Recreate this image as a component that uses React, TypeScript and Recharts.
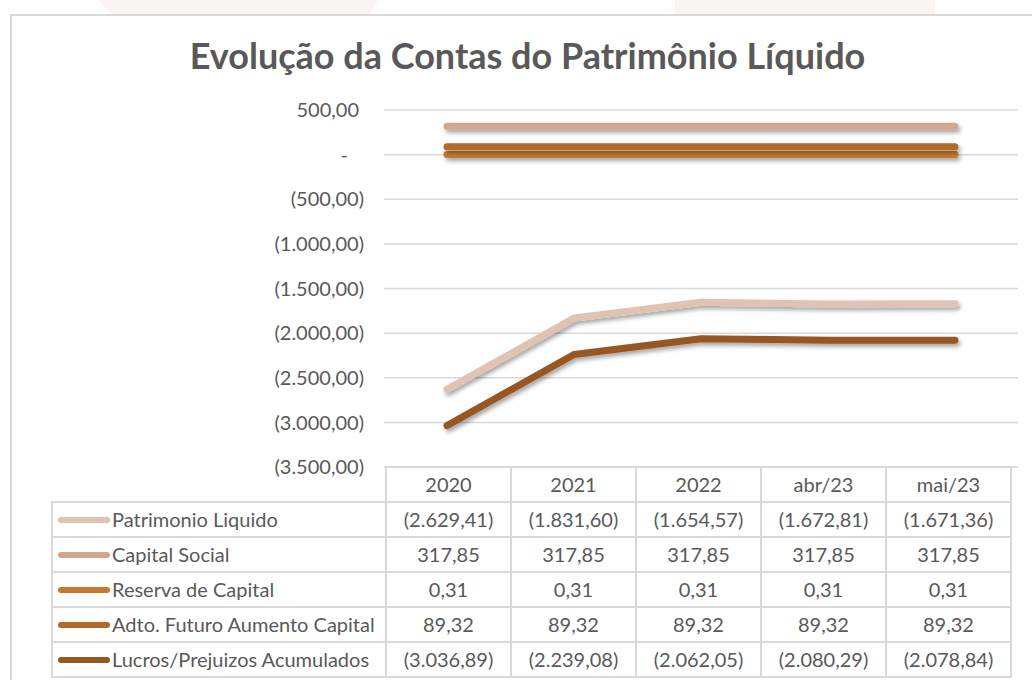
import { CartesianGrid, Line, LineChart, XAxis, YAxis } from 'recharts';

const periods = ['2020', '2021', '2022', 'abr/23', 'mai/23'];
const patrimonioLiquido = [-2629.41, -1831.6, -1654.57, -1672.81, -1671.36];
const capitalSocial = [317.85, 317.85, 317.85, 317.85, 317.85];
const reservaCapital = [0.31, 0.31, 0.31, 0.31, 0.31];
const adtoFuturo = [89.32, 89.32, 89.32, 89.32, 89.32];
const lucrosPrejuizos = [-3036.89, -2239.08, -2062.05, -2080.29, -2078.84];
const yTicks = [500, 0, -500, -1000, -1500, -2000, -2500, -3000, -3500];

const series = [
  { key: 'pl', name: 'Patrimonio Liquido', values: patrimonioLiquido, color: '#E1C3B3' },
  { key: 'cs', name: 'Capital Social', values: capitalSocial, color: '#D4A68C' },
  { key: 'rc', name: 'Reserva de Capital', values: reservaCapital, color: '#C8792F' },
  { key: 'af', name: 'Adto. Futuro Aumento Capital', values: adtoFuturo, color: '#B06A29' },
  { key: 'lp', name: 'Lucros/Prejuizos Acumulados', values: lucrosPrejuizos, color: '#975720' },
];

const data = periods.map((p, i) => {
  const row: Record<string, string | number> = { period: p };
  series.forEach((s) => (row[s.key] = s.values[i]));
  return row;
});

const FONT = 'Lato, "Open Sans", sans-serif';
const TEXT = '#595959';
const BORDER = '#D9D9D9';

function fmt(v: number) {
  const [i, d] = Math.abs(v).toFixed(2).split('.');
  const s = `${i.replace(/\B(?=(\d{3})+(?!\d))/g, '.')},${d}`;
  return v < 0 ? `(${s})` : s;
}

function YTick(props: any) {
  const { x, y, payload } = props;
  const v = payload.value as number;
  const label = v === 0 ? '-' : fmt(v);
  const dx = v < 0 ? 0 : v === 0 ? -16 : -5;
  return (
    <text
      x={x + dx}
      y={y}
      dy="0.36em"
      textAnchor="end"
      fill={TEXT}
      fontSize={20}
      fontFamily={FONT}
      style={{ fontVariantNumeric: 'tabular-nums' }}
    >
      {label}
    </text>
  );
}

const cell: React.CSSProperties = {
  border: `2px solid ${BORDER}`,
  textAlign: 'center',
  verticalAlign: 'middle',
  padding: 0,
  height: 33,
  color: TEXT,
  fontSize: 20,
  fontFamily: FONT,
  fontVariantNumeric: 'tabular-nums',
  whiteSpace: 'nowrap',
  lineHeight: '33px',
};

export default function App() {
  return (
    <div style={{ position: 'fixed', left: 0, top: 0, width: 1032, height: 680, background: '#fff', overflow: 'hidden' }}>
      <div style={{ position: 'absolute', left: 98, top: 0, width: 280, height: 14, background: '#FAF5F2', clipPath: 'polygon(0 0,100% 0,97% 100%,5% 100%)' }} />
      <div style={{ position: 'absolute', left: 675, top: 0, width: 260, height: 14, background: '#FAF5F2' }} />
      <div style={{ position: 'absolute', left: 10, top: 14, width: 1030, height: 680, border: `2px solid ${BORDER}`, boxSizing: 'border-box', background: '#fff' }} />
      <div
        style={{
          position: 'absolute',
          left: 0,
          top: 33,
          width: 1055,
          textAlign: 'center',
          fontFamily: FONT,
          fontWeight: 700,
          fontSize: 36,
          color: TEXT,
        }}
      >
        Evolução da Contas do Patrimônio Líquido
      </div>
      <div style={{ position: 'absolute', left: 0, top: 0 }}>
        <LineChart width={1032} height={680} data={data} margin={{ top: 110, right: 14, bottom: 213, left: 284 }}>
          <defs>
            <filter id="shadow" filterUnits="userSpaceOnUse" x="0" y="0" width="1032" height="680">
              <feDropShadow dx="2" dy="3" stdDeviation="2" floodColor="#000" floodOpacity="0.35" />
            </filter>
          </defs>
          <CartesianGrid vertical={false} stroke={BORDER} strokeWidth={1.5} />
          <XAxis dataKey="period" hide padding={{ left: 63, right: 63 }} />
          <YAxis
            width={100}
            domain={[-3500, 500]}
            ticks={yTicks}
            interval={0}
            axisLine={false}
            tickLine={false}
            tickSize={0}
            tickMargin={20}
            tick={<YTick />}
          />
          {series.map((s) => (
            <Line
              key={s.key}
              dataKey={s.key}
              name={s.name}
              stroke={s.color}
              strokeWidth={7}
              strokeLinecap="round"
              strokeLinejoin="round"
              dot={false}
              activeDot={false}
              filter="url(#shadow)"
              isAnimationActive={false}
            />
          ))}
        </LineChart>
      </div>
      <table
        style={{
          position: 'absolute',
          left: 51,
          top: 466,
          borderCollapse: 'collapse',
          tableLayout: 'fixed',
        }}
      >
        <colgroup>
          <col style={{ width: 334 }} />
          {periods.map((p) => (
            <col key={p} style={{ width: 125 }} />
          ))}
        </colgroup>
        <tbody>
          <tr>
            <td style={{ ...cell, border: 'none', borderBottom: `2px solid ${BORDER}` }} />
            {periods.map((p) => (
              <td key={p} style={cell}>
                {p}
              </td>
            ))}
          </tr>
          {series.map((s) => (
            <tr key={s.key}>
              <td style={{ ...cell, textAlign: 'left' }}>
                <div style={{ display: 'flex', alignItems: 'center', height: 33 }}>
                  <span
                    style={{
                      display: 'inline-block',
                      width: 52,
                      height: 6,
                      borderRadius: 3,
                      background: s.color,
                      marginLeft: 5,
                      marginRight: 2,
                      flex: 'none',
                    }}
                  />
                  <span>{s.name}</span>
                </div>
              </td>
              {s.values.map((v, i) => (
                <td key={i} style={cell}>
                  {fmt(v)}
                </td>
              ))}
            </tr>
          ))}
        </tbody>
      </table>
    </div>
  );
}
